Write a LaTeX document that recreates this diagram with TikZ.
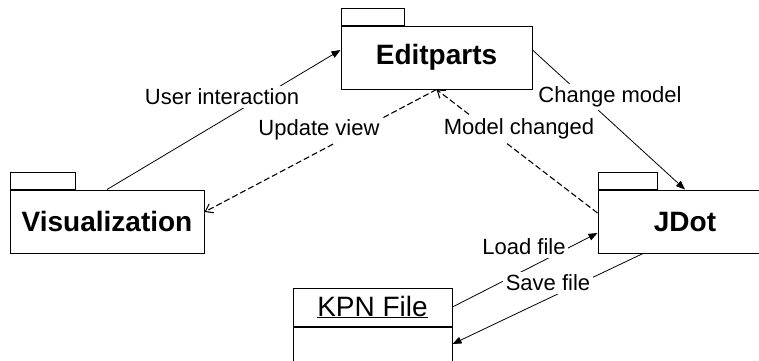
\documentclass[tikz,border=0pt]{standalone}
\usepackage{fontspec}
\setmainfont{Liberation Sans}
\usetikzlibrary{arrows.meta}
\begin{document}
\begin{tikzpicture}[x=1pt,y=-1pt,
  pkg/.style={draw, line width=1pt, inner sep=0pt, font=\fontsize{28}{32}\selectfont\bfseries},
  tab/.style={draw, line width=1pt, inner sep=0pt, minimum height=17pt, anchor=south west},
  obj/.style={draw, line width=1pt, inner sep=0pt, minimum width=159pt},
  lbl/.style={fill=white, inner sep=2.5pt, font=\fontsize{22}{26}\selectfont},
  msg/.style={line width=0.8pt, -{Triangle[length=9pt,width=7pt]}},
  reply/.style={line width=1.1pt, dash pattern=on 6pt off 3pt, -{Straight Barb[length=7pt,width=10pt]}},
]
\useasboundingbox (0,0) rectangle (759,360);
\clip (0,0) rectangle (759,360);

% packages
\node[pkg, minimum width=191pt, minimum height=63pt] (ep) at (436.5,57.5) {Editparts};
\node[tab, minimum width=63pt] (ept) at (ep.north west) {};
\node[pkg, minimum width=194pt, minimum height=63pt] (vis) at (107,221.5) {Visualization};
\node[tab, minimum width=65pt] (vist) at (vis.north west) {};
\node[pkg, minimum width=174pt, minimum height=63pt] (jd) at (685,221.5) {JDot};
\node[tab, minimum width=59pt] (jdt) at (jd.north west) {};

% object
\node[obj, minimum height=38pt, font=\fontsize{28}{30}\selectfont] (kpn) at (372.5,307) {\underline{KPN File}};
\node[obj, minimum height=40pt, anchor=north] (kpnbody) at (kpn.south) {};

% connectors
\draw[msg] (vis.north) -- ([yshift=7.5pt]ep.west);
\draw[reply] (ep.south) -- ([yshift=9.5pt]vis.east);
\draw[reply] ([yshift=8.5pt]jd.west) -- (ep.south);
\draw[msg] ([yshift=7.5pt]ep.east) -- (jd.north);
\draw[msg] (kpn.east) -- ([yshift=-11.5pt]jd.west);
\draw[msg] ([xshift=-42pt]jd.south) -- ([yshift=3pt]kpnbody.east);

% labels
\node[lbl] (l1) at (222,97) {User interaction};
\node[lbl] (l2) at (319,130) {Update view};
\node[lbl] (l3) at (519,129) {Model changed};
\node[lbl] (l4) at (610,97) {Change model};
\node[lbl] (l5) at (524,247) {Load file};
\node[lbl] (l6) at (548,283) {Save file};
\end{tikzpicture}
\end{document}
